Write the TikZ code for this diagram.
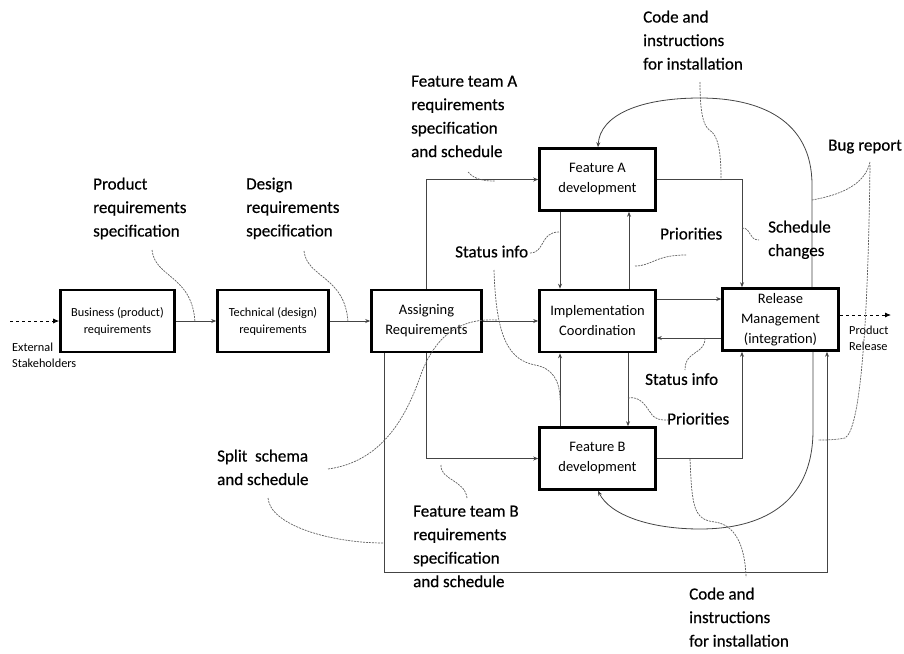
\documentclass[tikz,border=0pt]{standalone}
\usepackage{fontspec}
\setmainfont{Carlito}
\newfontfamily\labfont[FakeBold=0.5]{Carlito}
\usetikzlibrary{arrows.meta}
\definecolor{conn}{HTML}{444444}
\definecolor{note}{HTML}{606060}
\tikzset{
  box/.style={draw=black, line width=2.6pt, inner sep=0pt, align=center, fill=white,
              font=\fontsize{14.5}{20}\selectfont},
  sbox/.style={box, font=\fontsize{12.3}{17}\selectfont},
  lab/.style={anchor=north west, inner sep=0pt, align=left, font=\labfont\fontsize{17}{23.5}\selectfont},
  small/.style={anchor=north west, inner sep=0pt, align=left, font=\fontsize{12.3}{16}\selectfont},
  connector/.style={draw=conn, line width=0.8pt, -{Stealth[length=5pt,width=4pt]}},
  extarrow/.style={draw=black, line width=0.8pt, dashed, -{Latex[length=6pt,width=5pt]}},
  loopline/.style={draw=conn, line width=0.8pt, -{Stealth[length=5pt,width=4pt]}},
  notecurve/.style={draw=note, line width=0.7pt, dash pattern=on 2pt off 1pt},
}
\begin{document}
\begin{tikzpicture}[x=1pt,y=-1pt]
\useasboundingbox (0,0) rectangle (904,653);

% boxes
\node[sbox, minimum width=114, minimum height=62] (BR) at (117.5,321) {Business (product)\\requirements};
\node[sbox, minimum width=111, minimum height=62] (TR) at (273,321) {Technical (design)\\requirements};
\node[box, minimum width=110, minimum height=62] (AR) at (426.5,321) {Assigning\\Requirements};
\node[box, minimum width=116, minimum height=62] (IC) at (597.5,321) {Implementation\\Coordination};
\node[box, minimum width=116, minimum height=62] (FA) at (597.5,179.5) {Feature A\\development};
\node[box, minimum width=116, minimum height=62] (FB) at (597.5,458.5) {Feature B\\development};
\node[box, minimum width=116, minimum height=62] (RM) at (780.5,319.5) {Release\\Management\\(integration)};

% free ends
\coordinate (ext) at (10,321);
\coordinate (prod) at (891,315);

% connectors
\draw[extarrow] (ext) -- (BR.west);
\draw[connector] (BR) -- (TR);
\draw[connector] (TR) -- (AR);
\draw[connector] (AR) -- (IC);
\draw[connector] (AR.north) |- (FA.west);
\draw[connector] (AR.south) |- (FB.west);
\draw[connector] (AR.south -| 384,0) -- (384,572) -| (RM.south -| 827,0);
\draw[connector] (FA.south -| 560,0) -- (IC.north -| 560,0);
\draw[connector] (IC.north -| 629,0) -- (FA.south -| 629,0);
\draw[connector] (IC.south -| 628,0) -- (FB.north -| 628,0);
\draw[connector] (FB.north -| 560,0) -- (IC.south -| 560,0);
\draw[connector] (FA.east) -| (RM.north -| 742,0);
\draw[connector] (FB.east) -| (RM.south -| 742,0);
\draw[connector] (IC.east |- 0,299) -- (RM.west |- 0,299);
\draw[connector] (RM.west |- 0,338) -- (IC.east |- 0,338);
\draw[extarrow] (RM.east |- prod) -- (prod);

% feedback curves
\draw[loopline] (RM.north -| 812,0) -- (812,185) .. controls (812,120) and (760,98) .. (700,98)
   .. controls (640,98) and (600,115) .. (FA.north -| 598,0);
\draw[loopline] (RM.south -| 813,0) -- (813,430) .. controls (813,505) and (760,529) .. (700,529)
   .. controls (650,529) and (610,515) .. (FB.south -| 598,0);

% labels
\node[lab] (L1) at (93,177.5) {Product\\requirements\\specification};
\node[lab] (L2) at (246,177.5) {Design\\requirements\\specification};
\node[lab] (L3) at (411,75.5) {Feature team A\\requirements\\specification\\and schedule};
\node[lab] (L4) at (455,245.5) {Status info};
\node[lab] (L5) at (660,227.5) {Priorities};
\node[lab] (L6) at (768,220.5) {Schedule\\changes};
\node[lab] (L7) at (643,10.5) {Code and\\instructions\\for installation};
\node[lab] (L8) at (828,139.5) {Bug report};
\node[lab] (L9) at (645,373) {Status info};
\node[lab] (L10) at (667,412.5) {Priorities};
\node[lab] (L11) at (689,587.5) {Code and\\instructions\\for installation};
\node[lab] (L12) at (217,449.5) {Split\ \ schema\\and schedule};
\node[lab] (L13) at (413,505.5) {Feature team B\\requirements\\specification\\and schedule};
\node[small] (S1) at (12,343) {External\\Stakeholders};
\node[small] (S2) at (849,326) {Product\\Release};

% annotation curves
\draw[notecurve] (152,250) .. controls (155,278) and (192,275) .. (195,322);
\draw[notecurve] (304,251) .. controls (307,278) and (345,276) .. (348,322);
\draw[notecurve] (468,172) .. controls (475,180) and (485,181) .. (495,181);
\draw[notecurve] (530,253) .. controls (545,253) and (540,232) .. (559,232);
\draw[notecurve] (494,270) .. controls (496,340) and (510,360) .. (535,365)
   .. controls (552,368) and (560,380) .. (560,400);
\draw[notecurve] (635,266) .. controls (652,266) and (655,255) .. (686,255);
\draw[notecurve] (742,228) .. controls (752,228) and (748,240) .. (759,240);
\draw[notecurve] (700,82) .. controls (700,120) and (705,128) .. (712,132)
   .. controls (720,140) and (721,160) .. (721,180);
\draw[notecurve] (870,162) .. controls (865,185) and (840,195) .. (812,200);
\draw[notecurve] (870,165) .. controls (868,330) and (860,430) .. (845,438)
   .. controls (835,440) and (825,440) .. (818,440);
\draw[notecurve] (705,338) .. controls (705,355) and (685,350) .. (685,370);
\draw[notecurve] (628,398) .. controls (640,396) and (645,405) .. (650,412)
   .. controls (655,420) and (660,420) .. (668,420);
\draw[notecurve] (690,459) .. controls (692,505) and (693,520) .. (715,522)
   .. controls (735,525) and (745,545) .. (746,577);
\draw[notecurve] (328,469) .. controls (380,462) and (405,420) .. (420,377)
   .. controls (435,335) and (460,318) .. (497,320);
\draw[notecurve] (268,498) .. controls (270,525) and (330,543) .. (384,543);
\draw[notecurve] (441,465) .. controls (440,480) and (465,480) .. (467,498);
\end{tikzpicture}
\end{document}
